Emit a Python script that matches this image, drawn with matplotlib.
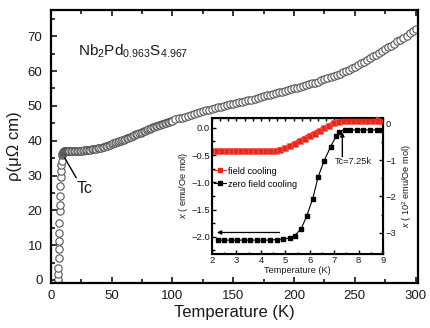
import matplotlib
matplotlib.use("Agg")
import matplotlib.pyplot as plt
from matplotlib.lines import Line2D
from matplotlib.ticker import MultipleLocator

plt.rcParams['font.family'] = ['Liberation Sans', 'DejaVu Sans']
plt.rcParams['mathtext.fontset'] = 'custom'
plt.rcParams['mathtext.rm'] = 'Liberation Sans'
plt.rcParams['mathtext.it'] = 'Liberation Sans:italic'
plt.rcParams['mathtext.bf'] = 'Liberation Sans:bold'

# resistividad vs temperatura (K, μΩ cm)
temp_rho = [6.0, 6.0, 6.1, 6.2, 6.3, 6.5, 6.6, 6.8, 7.0, 7.2, 7.4, 7.6, 7.8, 8.0, 8.2, 8.5, 8.8,
            9.0, 9.3, 9.6, 9.9, 10.2, 10.5, 10.8, 11.1, 11.4, 11.7, 12.0, 12.3, 12.6, 12.9, 13.2, 13.5,
            13.8, 14.1, 14.4, 14.7,
            15.0, 16.25, 17.5, 18.75, 20.0, 21.25, 22.5, 23.75, 25.0, 26.25, 27.5, 28.75, 30.0, 31.25,
            32.5, 33.75, 35.0, 36.25, 37.5, 38.75, 40.0, 41.25, 42.5, 43.75, 45.0, 46.25, 47.5, 48.75,
            50.0, 51.25, 52.5, 53.75, 55.0, 56.25, 57.5, 58.75, 60.0, 61.25, 62.5, 63.75, 65.0, 66.25,
            67.5, 68.75, 70.0, 71.25, 72.5, 73.75, 75.0, 76.25, 77.5, 78.75, 80.0, 81.25, 82.5, 83.75,
            85.0, 86.25, 87.5, 88.75, 90.0, 91.25, 92.5, 93.75, 95.0, 96.25, 97.5, 98.75,
            100.0, 102.5, 105.0, 107.5, 110.0, 112.5, 115.0,
            117.5, 120.0, 122.5, 125.0, 127.5, 130.0, 132.5, 135.0, 137.5, 140.0,
            142.5, 145.0, 147.5, 150.0, 152.5, 155.0, 157.5, 160.0, 162.5, 165.0,
            167.5, 170.0, 172.5, 175.0, 177.5, 180.0, 182.5, 185.0, 187.5, 190.0,
            192.5, 195.0, 197.5, 200.0, 202.5, 205.0, 207.5, 210.0, 212.5, 215.0,
            217.5, 220.0, 222.5, 225.0, 227.5, 230.0, 232.5, 235.0, 237.5, 240.0,
            242.5, 245.0, 247.5, 250.0, 252.5, 255.0, 257.5, 260.0, 262.5, 265.0,
            267.5, 270.0, 272.5, 275.0, 277.5, 280.0, 282.5, 285.0, 287.5, 290.0,
            292.5, 295.0, 297.5, 300.0]
rho = [-0.5, 0.4, 1.6, 3.5, 6.2, 9.0, 11.3, 13.4, 16.4, 19.9, 21.6, 24.0, 27.0, 29.5, 31.3, 33.0, 34.3,
       36.0, 36.3, 36.5, 36.6, 36.7, 36.8, 36.8, 36.9, 36.9, 36.9, 36.9, 37.0, 37.0, 37.0, 37.0, 37.0,
       37.0, 37.0, 37.0, 37.0,
       37.0, 36.9, 36.9, 36.9, 37.0, 37.0, 37.0, 37.0, 37.1, 37.1, 37.2, 37.2, 37.3, 37.3,
       37.4, 37.5, 37.6, 37.6, 37.7, 37.8, 37.9, 38.0, 38.2, 38.3, 38.4, 38.6, 38.7, 38.9,
       39.0, 39.2, 39.3, 39.5, 39.6, 39.8, 40.0, 40.1, 40.3, 40.5, 40.7, 40.8, 41.0, 41.2,
       41.4, 41.6, 41.8, 42.0, 42.2, 42.3, 42.5, 42.7, 42.9, 43.1, 43.3, 43.4, 43.6, 43.8,
       44.0, 44.1, 44.3, 44.4, 44.6, 44.7, 44.9, 45.0, 45.2, 45.3, 45.5, 45.6,
       45.8, 46.1, 46.4, 46.6, 46.9, 47.2, 47.4,
       47.7, 47.9, 48.2, 48.4, 48.7, 48.9, 49.1, 49.4, 49.6, 49.8,
       50.0, 50.2, 50.4, 50.6, 50.8, 51.0, 51.2, 51.4, 51.6, 51.8,
       52.1, 52.3, 52.5, 52.8, 53.0, 53.2, 53.4, 53.7, 53.9, 54.1,
       54.3, 54.6, 54.8, 55.0, 55.2, 55.5, 55.7, 56.0, 56.2, 56.5,
       56.7, 57.0, 57.3, 57.6, 57.9, 58.2, 58.5, 58.9, 59.2, 59.6,
       60.0, 60.4, 60.9, 61.3, 61.8, 62.2, 62.7, 63.2, 63.7, 64.2,
       64.7, 65.2, 65.7, 66.3, 66.8, 67.3, 67.9, 68.5, 69.0, 69.6,
       70.2, 70.9, 71.5, 72.2]

# susceptibilidad: zero field cooling (eje izquierdo)
zfc_temp = [2.23, 2.50, 2.76, 3.03, 3.30, 3.57, 3.84, 4.10, 4.37, 4.64, 4.91, 5.18, 5.38, 5.65,
            5.87, 6.12, 6.34, 6.58, 6.85, 7.08, 7.21, 7.43, 7.66, 7.92, 8.19, 8.46, 8.73, 8.93]
zfc_chi = [-2.06, -2.06, -2.06, -2.06, -2.06, -2.06, -2.06, -2.06, -2.06, -2.05, -2.04, -2.02, -1.98, -1.85,
           -1.62, -1.30, -0.90, -0.61, -0.35, -0.15, -0.07, -0.04, -0.04, -0.04, -0.04, -0.04, -0.04, -0.04]

# field cooling (eje derecho, 10^2 emu/Oe mol)
fc_temp = [2.0, 2.2, 2.4, 2.6, 2.8, 3.0, 3.2, 3.4, 3.6, 3.8, 4.0, 4.2, 4.4, 4.6, 4.8, 5.0, 5.2, 5.4,
           5.6, 5.8, 6.0, 6.2, 6.4, 6.6, 6.8, 7.0, 7.2, 7.4, 7.6, 7.8, 8.0, 8.2, 8.4, 8.6, 8.8, 9.0]
fc_chi = [-0.76, -0.76, -0.76, -0.76, -0.76, -0.76, -0.76, -0.76, -0.76, -0.76, -0.76, -0.76, -0.76,
          -0.75, -0.72, -0.68, -0.62, -0.55, -0.48, -0.41, -0.34, -0.27, -0.20, -0.13, -0.06, 0.01,
          0.06, 0.065, 0.065, 0.065, 0.065, 0.065, 0.065, 0.065, 0.065, 0.065]

txt = '#1a1a1a'
red = '#e8281e'

fig = plt.figure(figsize=(4.31, 3.28), dpi=100)
ax = fig.add_axes([0.118, 0.137, 0.852, 0.832])

ax.plot(temp_rho, rho, 'o', ms=5.3, mfc='white', mec='#555555', mew=0.8)
ax.set_xlim(0, 302)
ax.set_ylim(-0.9, 77.5)
ax.xaxis.set_major_locator(MultipleLocator(50))
ax.xaxis.set_minor_locator(MultipleLocator(25))
ax.yaxis.set_major_locator(MultipleLocator(10))
ax.yaxis.set_minor_locator(MultipleLocator(5))
ax.tick_params(which='both', direction='in', top=True, right=False, width=1.1, colors='k',
               labelcolor=txt, labelsize=9.5)
ax.tick_params(which='major', length=4.5)
ax.tick_params(which='minor', length=2.8)
ax.tick_params(axis='x', pad=5)
ax.tick_params(axis='y', pad=6)
for s in ax.spines.values():
    s.set_linewidth(1.6)
ax.set_xlabel('Temperature (K)', fontsize=12, color=txt, labelpad=2)
ax.set_ylabel('ρ(μΩ cm)', fontsize=12, color=txt, labelpad=4)

ax.text(22, 64.5, r'Nb$_2$Pd$_{0.963}$S$_{4.967}$', fontsize=11, color=txt, va='baseline')
ax.annotate('Tc', xy=(11.5, 35.0), xytext=(21.5, 26.4), fontsize=11.5, color=txt,
            ha='left', va='center',
            arrowprops=dict(arrowstyle='-', color='k', lw=1.0, relpos=(0.05, 1.0), shrinkA=0, shrinkB=0))

# inset
ins = fig.add_axes([0.492, 0.226, 0.397, 0.415])
ins.plot(zfc_temp, zfc_chi, '-s', color='k', lw=0.8, ms=3.0, zorder=3)
ins.set_xlim(2, 9)
ins.set_ylim(-2.312, 0.183)
ins.xaxis.set_major_locator(MultipleLocator(1))
ins.xaxis.set_minor_locator(MultipleLocator(0.5))
ins.yaxis.set_major_locator(MultipleLocator(0.5))
ins.yaxis.set_minor_locator(MultipleLocator(0.25))
ins.yaxis.set_major_formatter(plt.FuncFormatter(lambda v, p: f'{v:.1f}'.replace('-', '\u2212')))
ins.tick_params(which='both', direction='in', top=False, right=False, width=1.0,
                labelcolor=txt, labelsize=6.8, pad=1.5)
ins.tick_params(which='major', length=3.0)
ins.tick_params(which='minor', length=1.8)
for s in ins.spines.values():
    s.set_linewidth(1.5)
ins.set_xlabel('Temperature (K)', fontsize=6.6, color=txt, labelpad=1)
ins.set_ylabel(r'$x$ ( emu/Oe mol)', fontsize=6.6, color=txt, labelpad=1)

top = ins.secondary_xaxis('top')
top.set_xticks([2 + k / 3 for k in range(22)])
top.tick_params(direction='in', length=2.0, width=1.0, labeltop=False)

ax2 = ins.twinx()
ax2.plot(fc_temp, fc_chi, '-s', color=red, lw=4.0, ms=4.0, mfc=red, mec='#f26a5a', mew=0.4, zorder=2)
ax2.set_ylim(-3.578, 0.165)
ax2.yaxis.set_major_locator(MultipleLocator(1))
ax2.yaxis.set_minor_locator(MultipleLocator(0.5))
ax2.yaxis.set_major_formatter(plt.FuncFormatter(lambda v, p: f'{v:.0f}'.replace('-', '\u2212')))
ax2.tick_params(which='both', direction='in', width=1.0, labelcolor=txt, labelsize=6.8, pad=1.5)
ax2.tick_params(which='major', length=3.0)
ax2.tick_params(which='minor', length=1.8)
ax2.set_ylabel(r'$x$ ( 10$^2$ emu/Oe mol)', fontsize=6.6, color=txt, labelpad=3, rotation=90)
ax2.annotate('', xy=(9.0, 0.11), xytext=(7.3, 0.11), annotation_clip=False,
             arrowprops=dict(arrowstyle='-|>', color=red, lw=1.6, mutation_scale=7, shrinkA=0, shrinkB=0))

ins.annotate('', xy=(2.2, -1.92), xytext=(4.76, -1.92),
             arrowprops=dict(arrowstyle='-|>', color='k', lw=0.9, mutation_scale=6, shrinkA=0, shrinkB=0))
ins.annotate('', xy=(7.33, -0.08), xytext=(7.33, -0.53),
             arrowprops=dict(arrowstyle='-|>', color='k', lw=1.0, mutation_scale=6, shrinkA=0, shrinkB=0))
ins.text(7.78, -0.62, 'Tc=7.25k', fontsize=6.6, color=txt, ha='center', va='center')

handles = [Line2D([], [], color=red, lw=0.8, marker='s', ms=3.2),
           Line2D([], [], color='k', lw=0.8, marker='s', ms=3.2)]
ins.legend(handles, ['field cooling', 'zero field cooling'], loc='upper left',
           bbox_to_anchor=(0.0, 0.655), frameon=False, fontsize=6.6, handlelength=1.3,
           handletextpad=0.2, borderpad=0.1, borderaxespad=0.1, labelspacing=0.45)

fig.savefig('out.png', dpi=100)
